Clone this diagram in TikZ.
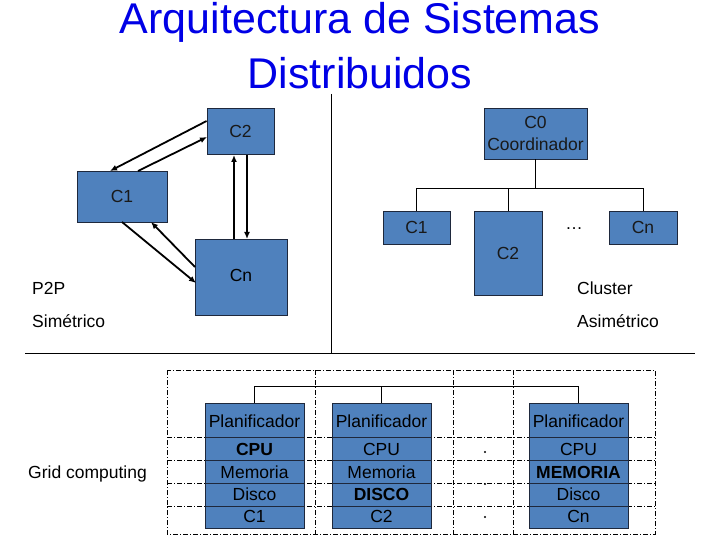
\documentclass[tikz,border=0pt]{standalone}
\usepackage{fontspec}
\setmainfont{Liberation Sans}
\usetikzlibrary{arrows.meta}
\definecolor{boxblue}{RGB}{79,129,189}
\definecolor{boxedge}{RGB}{30,40,60}
\definecolor{titleblue}{RGB}{0,0,230}
\begin{document}
\begin{tikzpicture}[x=1pt,y=-1pt,
  box/.style={draw=boxedge, fill=boxblue, line width=0.8pt, inner sep=0pt, font=\fontsize{17.5}{22}\selectfont, text=black!90, align=center},
  lbl/.style={inner sep=0pt, font=\fontsize{17.5}{22}\selectfont, anchor=west},
  txt/.style={inner sep=0pt, font=\fontsize{17.5}{22}\selectfont},
  arr/.style={line width=1.8pt, -{Latex[length=7pt,width=6pt]}},
  tree/.style={line width=0.9pt},
  dd/.style={line width=0.8pt, dash pattern=on 5pt off 2pt on 1pt off 2pt},
  sep/.style={line width=0.9pt, draw=boxedge}]
\useasboundingbox (0,0) rectangle (720,540);
% title
\node[font=\fontsize{43}{51}\selectfont, text=titleblue, inner sep=0pt] (t1) at (360,22) {Arquitectura de Sistemas};
\node[font=\fontsize{43}{51}\selectfont, text=titleblue, inner sep=0pt] (t2) at (360,73) {Distribuidos};
% divider lines
\coordinate (vtop) at (331,94);
\coordinate (vbot) at (331,353);
\coordinate (hl) at (25,353);
\coordinate (hr) at (695,353);
\draw[line width=1pt] (vtop) -- (vbot);
\draw[line width=1pt] (hl) -- (hr);
% P2P
\node[box, minimum width=67pt, minimum height=46pt] (a2) at (240.5,131) {C2};
\node[box, minimum width=90pt, minimum height=51pt] (a1) at (122,196.5) {C1};
\node[box, minimum width=92pt, minimum height=76pt, text depth=0pt] (an) at (241,277) {};
\node[txt] (antxt) at (241,275) {Cn};
\draw[arr] (a2.west |- 0,121) -- (110,171);
\draw[arr] (138,171) -- (207,137);
\draw[arr] (122,222) -- (196,283);
\draw[arr] (195,267) -- (151,222);
\draw[arr] (234,239) -- (234,155);
\draw[arr] (247,155) -- (247,239);
\node[lbl] (p2p) at (32,288) {P2P};
\node[lbl] (sim) at (32,321) {Simétrico};
% Cluster
\node[box, minimum width=103pt, minimum height=51pt] (c0) at (535.5,133.5) {C0\\Coordinador};
\node[box, minimum width=67pt, minimum height=33pt] (c1) at (416.5,227.5) {C1};
\node[box, minimum width=68pt, minimum height=84pt] (c2) at (508,253) {C2};
\node[box, minimum width=68pt, minimum height=33pt] (cn) at (643,227.5) {Cn};
\node[txt] (cdots) at (574,229) {\dots};
\coordinate (cj) at (c0.south |- 0,188);
\draw[tree] (c0.south) -- (cj);
\draw[tree] (c1.north) |- (cj);
\draw[tree] (cn.north) |- (cj);
\draw[tree] (c2.north) -- (c2.north |- cj);
\node[lbl] (clu) at (577,288) {Cluster};
\node[lbl] (asi) at (577,321) {Asimétrico};
% Grid
\node[lbl] (grid) at (28,474) {Grid computing};
\draw[dd] (167,370) rectangle (655,534);
\foreach \x in {315,453,513} \draw[dd] (\x,370) -- (\x,534);
\foreach \y in {437,460,483,506} \draw[dd] (167,\y) -- (655,\y);
\node[box, minimum width=99pt, minimum height=125pt] (g1) at (254.5,465.5) {};
\node[box, minimum width=99pt, minimum height=125pt] (g2) at (381.5,465.5) {};
\node[box, minimum width=99pt, minimum height=125pt] (g3) at (578.5,465.5) {};
\foreach \g in {g1,g2,g3} {
  \foreach \y in {437,460,483,506} \draw[sep] (\g.west |- 0,\y) -- (\g.east |- 0,\y);
}
\coordinate (gj) at (g2.north |- 0,386);
\draw[tree] (g1.north) |- (gj);
\draw[tree] (g3.north) |- (gj);
\draw[tree] (g2.north) -- (gj);
% texts in grid boxes
\node[txt] (g1a) at (g1 |- 0,421) {Planificador};
\node[txt] (g1b) at (g1 |- 0,449) {\bfseries CPU};
\node[txt] (g1c) at (g1 |- 0,472) {Memoria};
\node[txt] (g1d) at (g1 |- 0,494) {Disco};
\node[txt] (g1e) at (g1 |- 0,516) {C1};
\node[txt] (g2a) at (g2 |- 0,421) {Planificador};
\node[txt] (g2b) at (g2 |- 0,449) {CPU};
\node[txt] (g2c) at (g2 |- 0,472) {Memoria};
\node[txt] (g2d) at (g2 |- 0,494) {\bfseries DISCO};
\node[txt] (g2e) at (g2 |- 0,516) {C2};
\node[txt] (g3a) at (g3 |- 0,421) {Planificador};
\node[txt] (g3b) at (g3 |- 0,449) {CPU};
\node[txt] (g3c) at (g3 |- 0,472) {\bfseries MEMORIA};
\node[txt] (g3d) at (g3 |- 0,494) {Disco};
\node[txt] (g3e) at (g3 |- 0,516) {Cn};
\fill (485,452) circle (1.2pt);
\fill (485,484) circle (1.2pt);
\fill (485,517) circle (1.2pt);
\end{tikzpicture}
\end{document}
